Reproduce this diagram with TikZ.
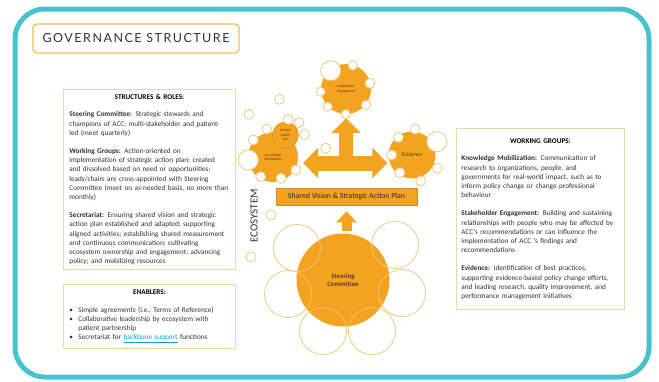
\documentclass[tikz,border=0pt]{standalone}
\usepackage{fontspec}
\setmainfont{Carlito}
\newfontfamily\titlefont[LetterSpace=12]{Lato}
\usepackage{tikz}
\usetikzlibrary{positioning}
\usetikzlibrary{calc,arrows.meta}

\definecolor{frameteal}{RGB}{70,195,207}
\definecolor{accorange}{RGB}{244,163,33}
\definecolor{boxgold}{RGB}{236,216,160}
\definecolor{titlegold}{RGB}{245,190,85}
\definecolor{bubblegold}{RGB}{236,200,125}
\definecolor{bannerbrown}{RGB}{200,140,55}
\definecolor{bodygray}{RGB}{50,50,50}
\definecolor{linkblue}{RGB}{0,160,225}
\definecolor{darkbrown}{RGB}{90,60,15}

\begin{document}
\begin{tikzpicture}
	[   x=1pt,y=-1pt,
		txtbox/.style={draw=boxgold,line width=0.9pt,fill=white,align=left,anchor=north west,inner xsep=6pt,inner ysep=3pt,font=\fontsize{7.25}{9.2}\selectfont,text=bodygray},
		cluster/.style={circle,fill=accorange,inner sep=0pt,minimum size=#1,align=center,text=darkbrown,font=\fontsize{3.6}{4.3}\selectfont},
		bubble/.style={draw=bubblegold,fill=white,line width=0.8pt},
		ring/.style={draw=bubblegold,line width=0.8pt},
	]
	\tikzset{block arrow/.style={draw=accorange,line width=15pt,-{Triangle[width=30pt,length=15pt]}}}
	
	\useasboundingbox (0,0) rectangle (659,381);
	\draw[frameteal,line width=5pt,rounded corners=30pt] (15,9) rectangle (649,377);
	
	\node[draw=titlegold,line width=1.2pt,rounded corners=4pt,minimum width=206pt,minimum height=29pt,text=bodygray,font=\titlefont\fontsize{12.5}{14}\selectfont] (title) at (136,38.5) {GOVERNANCE STRUCTURE};
	
	% text boxes
	\node[txtbox,text width=160pt,minimum height=180pt] (roles) at (63,89) {%
		\makebox[160pt]{\textbf{\color{black}STRUCTURES \& ROLES:}}\\[8.6pt]
		\textbf{Steering Committee:} Strategic stewards and\\
		champions of ACC; multi-stakeholder and patient-\\
		led (meet quarterly)\\[9pt]
		\textbf{Working Groups:} Action-oriented on\\
		implementation of strategic action plan; created\\
		and dissolved based on need or opportunities;\\
		leads/chairs are cross-appointed with Steering\\
		Committee (meet on as-needed basis, no more than\\
		monthly)\\[9pt]
		\textbf{Secretariat:} Ensuring shared vision and strategic\\
		action plan established and adapted; supporting\\
		aligned activities; establishing shared measurement\\
		and continuous communication; cultivating\\
		ecosystem ownership and engagement; advancing\\
		policy; and mobilizing resources};
	
	\node[txtbox,text width=160pt,minimum height=64pt] (enablers) at (63,284) {%
		\makebox[160pt]{\textbf{\color{black}ENABLERS:}}\\[8pt]
		\makebox[9pt][l]{\textbullet}Simple agreements (i.e., Terms of Reference)\\
		\makebox[9pt][l]{\textbullet}Collaborative leadership by ecosystem with\\
		\hspace*{9pt}patient partnership\\
		\makebox[9pt][l]{\textbullet}Secretariat for \textcolor{linkblue}{\underline{backbone support}} functions};
	
	\node[txtbox,text width=158pt,inner xsep=5pt,minimum height=181pt] (groups) at (456,128) {%
		\makebox[158pt]{\textbf{\color{black}WORKING GROUPS:}}\\[8.6pt]
		\textbf{Knowledge Mobilization:} Communication of\\
		research to organizations, people, and\\
		governments for real-world impact, such as to\\
		inform policy change or change professional\\
		behaviour\\[9pt]
		\textbf{Stakeholder Engagement:} Building and sustaining\\
		relationships with people who may be affected by\\
		ACC's recommendations or can influence the\\
		implementation of ACC 's findings and\\
		recommendations\\[9pt]
		\textbf{Evidence:} Identification of best practices,\\
		supporting evidence-based policy change efforts,\\
		and leading research, quality improvement, and\\
		performance management initiatives};
	
	% steering committee
	\node[cluster=93pt,font=\bfseries\fontsize{6.8}{8.2}\selectfont] (sc) at (343,280) {Steering\\Committee};
	\foreach \rx/\ry in {297/248, 395/245, 288/294, 402/293, 323/331, 372/331}
	{
		\draw[ring] (\rx,\ry) circle[radius=23.5pt];
	}
	
	\node[fill=accorange,draw=bannerbrown,line width=0.6pt,minimum width=141pt,minimum height=17pt,font=\fontsize{7.8}{9}\selectfont,text=black!85] (vision) at (346.5,196.5) {Shared Vision \& Strategic Action Plan};
	\node[rotate=90,font=\fontsize{11}{12}\selectfont,text=bodygray] (eco) at (254,216) {ECOSYSTEM};
	
	% working group clusters
	\node[cluster=50pt] (km) at (273,157) {Knowledge\\Mobilization};
	\node[cluster=26pt,draw=bannerbrown,line width=0.5pt] (mhh) at (285.5,135) {Mental\\Health\\Hub};
	\node[cluster=50pt] (se) at (346,89) {Stakeholder\\Engagement};
	\node[cluster=47pt,font=\fontsize{5.6}{6.5}\selectfont] (ev) at (412,155) {Evidence};
	
	\foreach \bx/\by/\br in {248.3/160/10, 266.7/129/5, 253.3/140/5, 288.3/119.3/5, 299/122.7/5, 304.7/134.7/5, 295.7/170/5, 281/178.3/5, 260.7/176.7/5,
		330.7/70.7/10, 352.7/65.3/4.7, 370/83.3/5, 320.7/91.7/4.5, 327.7/106.7/4.5, 366/105/4.8, 345.7/114/4.5,
		436.7/141.7/10, 415/129/5, 398.3/137.3/5, 391.7/155/5, 400/172.7/5, 420.7/181/5, 437.3/168.3/5,
		279.3/99.3/5, 249/114.3/5, 325.7/148.3/5, 271/215/5, 251/257/5}
	{
		\draw[bubble] (\bx,\by) circle[radius=\br pt];
	}
	
	% arrows
	\coordinate (cross) at (346,163);
	\coordinate (cross-base) at (346,170.5);
	\draw[block arrow,line width=14pt,-{Triangle[width=29pt,length=15pt]},shorten >=4pt] (cross-base) -- (se.south);
	\draw[block arrow,shorten >=5pt] (cross) -- (cross -| km.east);
	\draw[block arrow,shorten >=1pt] (cross) -- (cross -| ev.west);
	\draw[block arrow,line width=10pt,-{Triangle[width=20pt,length=11pt]},shorten <=2pt,shorten >=6pt] (vision.south |- sc.north) -- (vision.south);
	
\end{tikzpicture}
\end{document}
